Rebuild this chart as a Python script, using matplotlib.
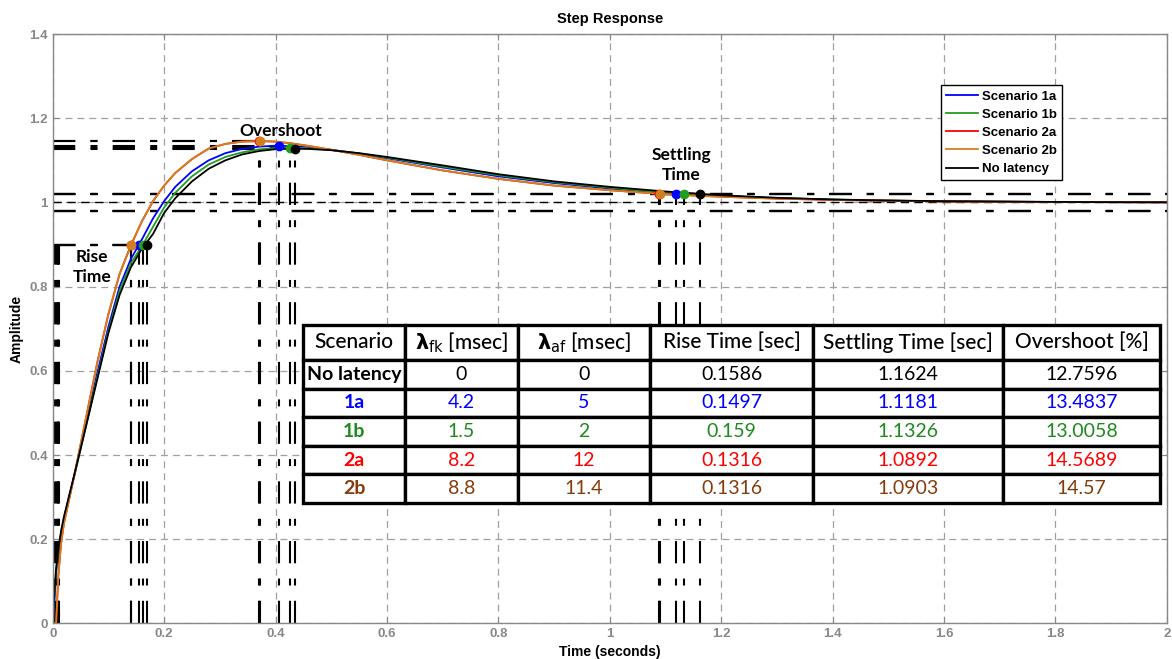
import matplotlib
matplotlib.use('Agg')
import matplotlib.pyplot as plt
import numpy as np

plt.rcParams['lines.scale_dashes'] = False
plt.rcParams['mathtext.fontset'] = 'dejavusans'
plt.rcParams['font.family'] = ['Liberation Sans', 'DejaVu Sans']

# ---------------- data ----------------
t = [0, 0.003, 0.006, 0.01, 0.015, 0.02, 0.03, 0.04, 0.06, 0.08, 0.1, 0.12, 0.14, 0.16,
     0.18, 0.2, 0.22, 0.25, 0.28, 0.31, 0.34, 0.37, 0.4, 0.43, 0.46, 0.5, 0.55, 0.6, 0.7,
     0.8, 0.9, 1.0, 1.1, 1.2, 1.3, 1.4, 1.5, 1.6, 1.7, 1.8, 1.9, 2.0]

y_1a = [0, 0.05, 0.12, 0.17, 0.212, 0.245, 0.303, 0.36, 0.475, 0.595, 0.705, 0.80, 0.865, 0.912,
        0.962, 1.003, 1.037, 1.074, 1.100, 1.117, 1.127, 1.1325, 1.1347, 1.1335, 1.1305, 1.125,
        1.116, 1.105, 1.083, 1.062, 1.046, 1.033, 1.0215, 1.0155, 1.010, 1.0065, 1.0042, 1.0027,
        1.0017, 1.0011, 1.0007, 1.0004]
y_1b = [0, 0.07, 0.125, 0.172, 0.215, 0.25, 0.303, 0.358, 0.47, 0.585, 0.695, 0.79, 0.855, 0.896,
        0.942, 0.988, 1.023, 1.062, 1.090, 1.108, 1.119, 1.126, 1.1293, 1.1300, 1.1285, 1.1245,
        1.1165, 1.1065, 1.085, 1.0645, 1.048, 1.035, 1.0225, 1.015, 1.0105, 1.0068, 1.0044, 1.0028,
        1.0018, 1.0011, 1.0007, 1.0004]
y_2a = [0, 0, 0, 0.115, 0.19, 0.237, 0.298, 0.36, 0.49, 0.62, 0.735, 0.83, 0.897, 0.955,
        1.003, 1.04, 1.07, 1.103, 1.128, 1.139, 1.1445, 1.1457, 1.1445, 1.14, 1.134, 1.125,
        1.113, 1.100, 1.076, 1.056, 1.040, 1.029, 1.0195, 1.0135, 1.009, 1.006, 1.004, 1.0025,
        1.0016, 1.001, 1.0006, 1.0004]
y_2b = [0, 0, 0, 0.11, 0.19, 0.237, 0.298, 0.36, 0.49, 0.62, 0.735, 0.83, 0.897, 0.955,
        1.003, 1.04, 1.07, 1.103, 1.128, 1.139, 1.1445, 1.1457, 1.1445, 1.14, 1.134, 1.125,
        1.113, 1.100, 1.076, 1.056, 1.040, 1.029, 1.0195, 1.0135, 1.009, 1.006, 1.004, 1.0025,
        1.0016, 1.001, 1.0006, 1.0004]
y_nolat = [0, 0.075, 0.13, 0.177, 0.22, 0.253, 0.307, 0.36, 0.47, 0.58, 0.69, 0.78, 0.845, 0.89,
           0.925, 0.975, 1.01, 1.05, 1.08, 1.10, 1.114, 1.122, 1.1265, 1.1276, 1.127, 1.124,
           1.117, 1.108, 1.088, 1.067, 1.050, 1.037, 1.026, 1.017, 1.011, 1.007, 1.0045, 1.003,
           1.002, 1.0012, 1.0007, 1.0004]

legend_names = ['Scenario 1a', 'Scenario 1b', 'Scenario 2a', 'Scenario 2b', 'No latency']
series = [y_1a, y_1b, y_2a, y_2b, y_nolat]
line_colors = ['#0000ff', '#1f9e1f', '#ff0000', '#d2801e', '#000000']

# characteristics (same order as legend_names)
rise_time = [0.1497, 0.159, 0.1316, 0.1316, 0.1586]
rise_end_t = [0.155, 0.162, 0.141, 0.141, 0.169]
peak_t = [0.407, 0.426, 0.371, 0.373, 0.435]
overshoot = [13.4837, 13.0058, 14.5689, 14.57, 12.7596]
settling = [1.1181, 1.1326, 1.0892, 1.0903, 1.1624]

# table
tab_header = ['Scenario', r'$\mathbf{λ}_{\mathrm{fk}}$ [msec]', r'$\mathbf{λ}_{\mathrm{af}}$ [msec]',
              'Rise Time [sec]', 'Settling Time [sec]', 'Overshoot [%]']
tab_scen = ['No latency', '1a', '1b', '2a', '2b']
tab_lfk = ['0', '4.2', '1.5', '8.2', '8.8']
tab_laf = ['0', '5', '2', '12', '11.4']
tab_rise = ['0.1586', '0.1497', '0.159', '0.1316', '0.1316']
tab_settle = ['1.1624', '1.1181', '1.1326', '1.0892', '1.0903']
tab_over = ['12.7596', '13.4837', '13.0058', '14.5689', '14.57']
tab_colors = ['#000000', '#0000ff', '#1e8a1e', '#ff0000', '#843c0c']

x_ticks = [0, 0.2, 0.4, 0.6, 0.8, 1.0, 1.2, 1.4, 1.6, 1.8, 2.0]
y_ticks = [0, 0.2, 0.4, 0.6, 0.8, 1.0, 1.2, 1.4]

# ---------------- figure ----------------
fig = plt.figure(figsize=(11.72, 6.59), dpi=100)
ax = fig.add_axes([0.0450, 0.0539, 0.9505, 0.8945])
ax.set_xlim(0, 2)
ax.set_ylim(0, 1.4)

ax.grid(True, color='#a0a0a0', linestyle=(0, (5, 3.6)), linewidth=0.9)
ax.set_axisbelow(True)

dd = (0, (16, 11, 5, 11))
clw = 1.5
kw = dict(color='k', lw=clw, linestyle=dd, zorder=1.5)
for i in range(5):
    t10 = rise_end_t[i] - rise_time[i]
    pk = 1 + overshoot[i] / 100
    # rise time lines
    ax.plot([t10, t10], [0, 0.9], **kw)
    ax.plot([rise_end_t[i], rise_end_t[i]], [0, 0.9], **kw)
    ax.plot([0, rise_end_t[i]], [0.9, 0.9], **kw)
    # peak lines
    ax.plot([peak_t[i], peak_t[i]], [0, pk], **kw)
    ax.plot([0, peak_t[i]], [pk, pk], **kw)
    # settling lines
    ax.plot([settling[i], settling[i]], [0, 1.02], **kw)
    ax.plot([0, 2], [1.02, 1.02], **kw)
    ax.plot([0, 2], [0.98, 0.98], **kw)
ax.plot([0, 2], [1.0, 1.0], color='k', lw=1.0, linestyle=(0, (6, 4)), zorder=1.5)

for i in range(5):
    ax.plot(t, series[i], color=line_colors[i], lw=1.3, label=legend_names[i], zorder=2)

for i in range(5):
    pk = 1 + overshoot[i] / 100
    ax.plot([rise_end_t[i]], [0.9], 'o', color=line_colors[i], ms=6, zorder=3)
    ax.plot([peak_t[i]], [pk], 'o', color=line_colors[i], ms=6, zorder=3)
    ax.plot([settling[i]], [1.02], 'o', color=line_colors[i], ms=6, zorder=3)

ax.set_xticks(x_ticks)
ax.set_yticks(y_ticks)
ax.set_xticklabels(['%g' % v for v in x_ticks])
ax.set_yticklabels(['%g' % v for v in y_ticks])
ax.tick_params(direction='in', length=4, color='#888888', labelcolor='#888888',
               labelsize=9.5, top=True, right=True)
for lab in ax.get_xticklabels() + ax.get_yticklabels():
    lab.set_fontweight('bold')
for s in ax.spines.values():
    s.set_color('#888888')
    s.set_linewidth(1.0)

ax.set_title('Step Response', fontsize=10.5, fontweight='bold', pad=8)
ax.set_xlabel('Time (seconds)', fontsize=10, fontweight='bold', labelpad=3)
ax.set_ylabel('Amplitude', fontsize=10, fontweight='bold', labelpad=4)

# annotations
ax.text(0.410, 1.1705, 'Overshoot', ha='center', va='center', fontsize=12.5,
        fontweight='bold', family='Lato', zorder=4)
ax.text(0.070, 0.847, 'Rise\nTime', ha='center', va='center', fontsize=12.5,
        fontweight='bold', family='Lato', linespacing=1.3, zorder=4)
ax.text(1.128, 1.088, 'Settling\nTime', ha='center', va='center', fontsize=12.5,
        fontweight='bold', family='Lato', linespacing=1.3, zorder=4)

leg = ax.legend(loc='upper right', bbox_to_anchor=(0.906, 0.9135), borderaxespad=0,
                fancybox=False, framealpha=1, edgecolor='k',
                prop={'family': 'Liberation Sans', 'weight': 'bold', 'size': 9.5},
                handlelength=2.4, handletextpad=0.3, labelspacing=0.45, borderpad=0.4)
leg.get_frame().set_linewidth(1.0)
leg.set_zorder(6)

# table
cell_text = [[tab_scen[r], tab_lfk[r], tab_laf[r], tab_rise[r], tab_settle[r], tab_over[r]]
             for r in range(5)]
col_w = [102, 113, 132, 163, 190, 157]
tab = ax.table(cellText=cell_text, colLabels=tab_header, cellLoc='center',
               bbox=[0.2247, 0.2044, 0.994 - 0.2247, 0.5064 - 0.2044], zorder=5)
tab.auto_set_font_size(False)
for (r, c), cell in tab.get_celld().items():
    cell.set_width(col_w[c])
    cell.set_height(35 if r == 0 else 28.6)
    cell.set_linewidth(2.4)
    cell.set_edgecolor('k')
    cell.set_facecolor('white')
    txt = cell.get_text()
    txt.set_fontfamily(['Lato', 'DejaVu Sans'])
    if r == 0:
        txt.set_fontsize(15)
        txt.set_color('k')
        txt.set_fontweight('medium')
    else:
        txt.set_fontsize(14)
        txt.set_color(tab_colors[r - 1])
        if c == 0:
            txt.set_fontweight('bold')

fig.savefig('out.png', dpi=100)
